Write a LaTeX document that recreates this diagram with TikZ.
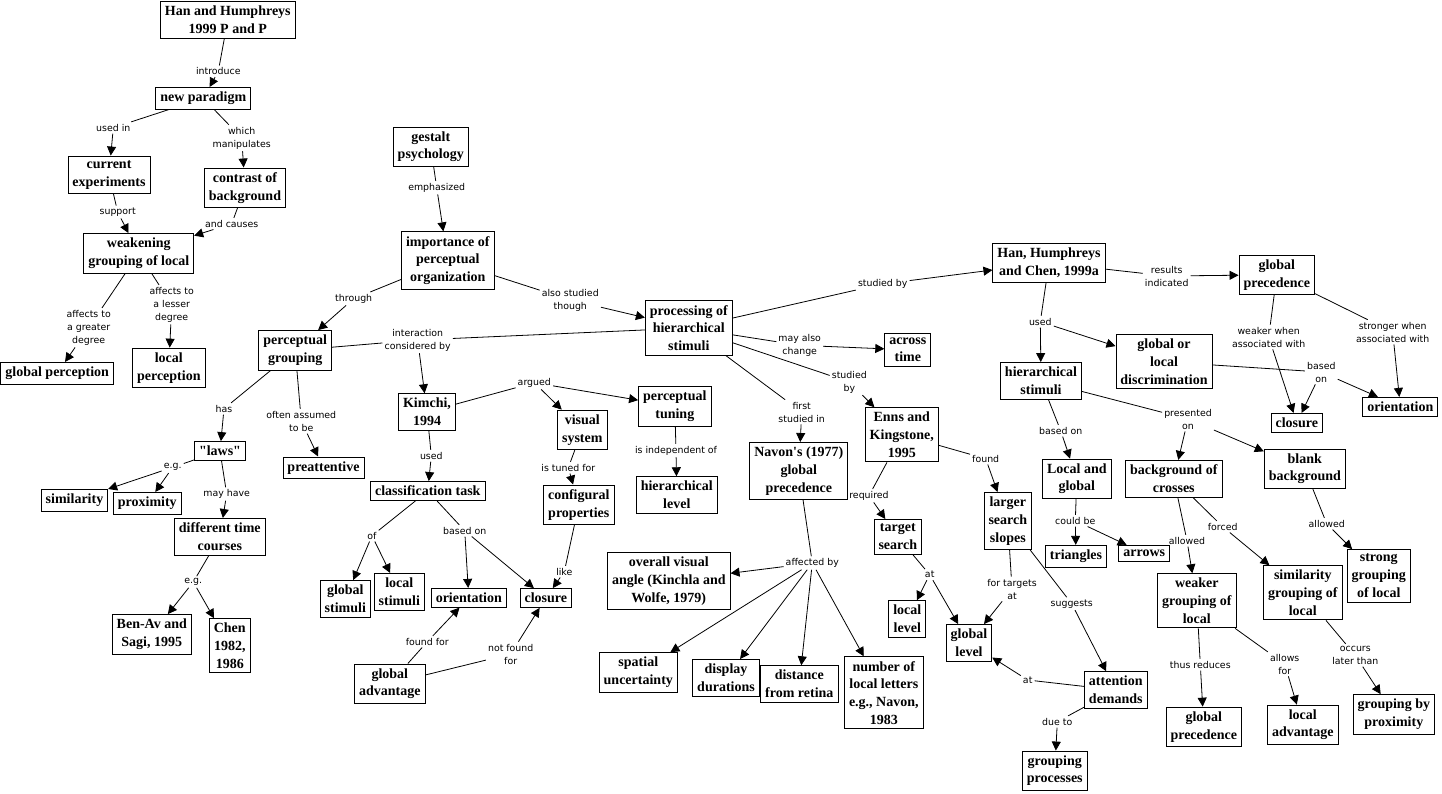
\documentclass[tikz,border=0pt]{standalone}
\usepackage{fontspec}
\usetikzlibrary{arrows.meta}
\newfontfamily\cmNodeFam{Liberation Serif}
\newfontfamily\cmLabFam{DejaVu Sans}
\newcommand\cmNodeFont{\cmNodeFam\bfseries\fontsize{14}{17.7}\selectfont}
\newcommand\cmLabFont{\cmLabFam\fontsize{9.4}{13}\selectfont}
\tikzset{
  concept/.style={draw, line width=0.9pt, fill=white, align=center, font=\cmNodeFont, inner xsep=4.5pt, inner ysep=4.5pt},
  lab/.style={font=\cmLabFont, align=center, inner sep=2pt},
  link/.style={line width=0.8pt},
  arr/.style={line width=0.8pt, -{Triangle[length=9pt,width=9pt]}},
}
\begin{document}
\begin{tikzpicture}[x=1pt,y=-1pt]
\useasboundingbox (0,0) rectangle (1442,793);
\fill[white] (0,0) rectangle (1442,793);
% concepts
\node[concept] (hh99) at (227.8,19.8) {Han and Humphreys\\1999 P and P};
\node[concept] (newpar) at (203.3,98.3) {new paradigm};
\node[concept] (curexp) at (109,174.8) {current\\experiments};
\node[concept] (contrast) at (245,187.8) {contrast of\\background};
\node[concept] (weaken) at (138.8,253.3) {weakening\\grouping of local};
\node[concept] (globperc) at (57.2,373.3) {global perception};
\node[concept] (localperc) at (168.8,367.8) {local\\perception};
\node[concept] (gestalt) at (430.8,146.8) {gestalt\\psychology};
\node[concept] (importance) at (447.8,260.5) {importance of\\perceptual\\organization};
\node[concept] (pgroup) at (295.2,350.3) {perceptual\\grouping};
\node[concept] (prochier) at (688.8,328) {processing of\\hierarchical\\stimuli};
\node[concept] (kimchi) at (427,412) {Kimchi,\\1994};
\node[concept] (laws) at (220,451) {"laws"};
\node[concept] (preatt) at (323.5,467.8) {preattentive};
\node[concept] (similarity) at (74.5,500.3) {similarity};
\node[concept] (proximity) at (147.3,503.3) {proximity};
\node[concept] (difftime) at (219.8,536.8) {different time\\courses};
\node[concept] (benav) at (151.8,634.3) {Ben-Av and\\Sagi, 1995};
\node[concept] (chen) at (229.8,645.8) {Chen\\1982,\\1986};
\node[concept] (classtask) at (427.8,491) {classification task};
\node[concept] (globstim) at (345.3,598.8) {global\\stimuli};
\node[concept] (locstim) at (399.3,591.7) {local\\stimuli};
\node[concept] (orient1) at (468.8,597.8) {orientation};
\node[concept] (closure1) at (545.8,598) {closure};
\node[concept] (globadv) at (389.8,683.7) {global\\advantage};
\node[concept] (vissys) at (582.3,429.8) {visual\\system};
\node[concept] (perctun) at (674.8,406.3) {perceptual\\tuning};
\node[concept] (config) at (578.8,504.8) {configural\\properties};
\node[concept] (hierlevel) at (676.8,495) {hierarchical\\level};
\node[concept] (overall) at (668.8,581) {overall visual\\angle (Kinchla and\\Wolfe, 1979)};
\node[concept] (spatial) at (638.3,672.3) {spatial\\uncertainty};
\node[concept] (display) at (726,677.7) {display\\durations};
\node[concept] (distance) at (799.3,684) {distance\\from retina};
\node[concept] (numloc) at (883.8,692.8) {number of\\local letters\\e.g., Navon,\\1983};
\node[concept] (navon) at (798.8,471) {Navon's (1977)\\global\\precedence};
\node[concept] (across) at (907.8,349.8) {across\\time};
\node[concept] (enns) at (901.8,434.8) {Enns and\\Kingstone,\\1995};
\node[concept] (target) at (897.8,536.8) {target\\search};
\node[concept] (loclevel) at (907.3,619) {local\\level};
\node[concept] (globlevel) at (969,642.8) {global\\level};
\node[concept] (larger) at (1007.8,521) {larger\\search\\slopes};
\node[concept] (attn) at (1115.8,690) {attention\\demands};
\node[concept] (grpproc) at (1054.8,770.7) {grouping\\processes};
\node[concept] (triangles) at (1076,556.2) {triangles};
\node[concept] (arrowsn) at (1144.3,553.3) {arrows};
\node[concept] (weaker) at (1196.8,600.8) {weaker\\grouping of\\local};
\node[concept] (simgrp) at (1302.8,592.8) {similarity\\grouping of\\local};
\node[concept] (strong) at (1378.8,575.8) {strong\\grouping\\of local};
\node[concept] (globprecB) at (1203.8,726.8) {global\\precedence};
\node[concept] (localadv) at (1302.8,724.8) {local\\advantage};
\node[concept] (grpprox) at (1393.8,714.3) {grouping by\\proximity};
\node[concept] (hhc) at (1049,262.8) {Han, Humphreys\\and Chen, 1999a};
\node[concept] (globprecA) at (1276.8,274.8) {global\\precedence};
\node[concept] (glocdisc) at (1164,361.8) {global or\\local\\discrimination};
\node[concept] (hierstim) at (1041,380.8) {hierarchical\\stimuli};
\node[concept] (closure2) at (1296.8,422.8) {closure};
\node[concept] (orient2) at (1400.3,406.8) {orientation};
\node[concept] (locglob) at (1076.8,478.8) {Local and\\global};
\node[concept] (bgcross) at (1173.8,478.7) {background of\\crosses};
\node[concept] (blank) at (1304.8,468.8) {blank\\background};
% labels
\node[lab] (l1) at (218.3,71.3) {introduce};
\node[lab] (l2) at (113.3,127.7) {used in};
\node[lab] (l3) at (241.7,138) {which\\manipulates};
\node[lab] (l4) at (117.7,212) {support};
\node[lab] (l5) at (231.7,223.7) {and causes};
\node[lab] (l6) at (88.7,327.7) {affects to\\a greater\\degree};
\node[lab] (l7) at (171.7,304.7) {affects to\\a lesser\\degree};
\node[lab] (l8) at (436.7,187.7) {emphasized};
\node[lab] (l9) at (353.7,298.7) {through};
\node[lab] (l10) at (570.3,300) {also studied\\though};
\node[lab] (l11) at (417.7,340) {interaction\\considered by};
\node[lab] (l12) at (224,408.7) {has};
\node[lab] (l13) at (301.3,421.3) {often assumed\\to be};
\node[lab] (l14) at (172.7,467.3) {e.g.};
\node[lab] (l15) at (226.7,494) {may have};
\node[lab] (l16) at (193.3,582) {e.g.};
\node[lab] (l17) at (431.3,455.7) {used};
\node[lab] (l18) at (372,535.7) {of};
\node[lab] (l19) at (464.7,530.7) {based on};
\node[lab] (l20) at (427.3,641.7) {found for};
\node[lab] (l21) at (510.7,654) {not found\\for};
\node[lab] (l22) at (534.3,382.7) {argued};
\node[lab] (l23) at (568.3,467.7) {is tuned for};
\node[lab] (l24) at (564.3,571.7) {like};
\node[lab] (l25) at (676,450.7) {is independent of};
\node[lab] (l26) at (882.7,284) {studied by};
\node[lab] (l27) at (799.7,345.3) {may also\\change};
\node[lab] (l28) at (849.3,382) {studied\\by};
\node[lab] (l29) at (801.7,412) {first\\studied in};
\node[lab] (l30) at (812.3,563) {affected by};
\node[lab] (l31) at (869,495.7) {required};
\node[lab] (l32) at (985.7,458.7) {found};
\node[lab] (l33) at (929.7,574.7) {at};
\node[lab] (l34) at (1012,589) {for targets\\at};
\node[lab] (l35) at (1071.7,603.7) {suggests};
\node[lab] (l36) at (1027.7,680) {at};
\node[lab] (l37) at (1057.3,721.7) {due to};
\node[lab] (l38) at (1166.7,276) {results\\indicated};
\node[lab] (l39) at (1040.3,321.7) {used};
\node[lab] (l40) at (1268.7,337) {weaker when\\associated with};
\node[lab] (l41) at (1392.7,332) {stronger when\\associated with};
\node[lab] (l42) at (1321.3,372) {based\\on};
\node[lab] (l43) at (1060.7,430.7) {based on};
\node[lab] (l44) at (1188,419) {presented\\on};
\node[lab] (l45) at (1075.3,520.7) {could be};
\node[lab] (l46) at (1187,540.7) {allowed};
\node[lab] (l47) at (1222.7,526.7) {forced};
\node[lab] (l48) at (1326.7,523.7) {allowed};
\node[lab] (l49) at (1200.3,664.7) {thus reduces};
\node[lab] (l50) at (1284.7,664) {allows\\for};
\node[lab] (l51) at (1355.3,655.3) {occurs\\later than};
% connectors
\draw[link] (hh99) -- (l1); \draw[arr] (l1) -- (newpar);
\draw[link] (newpar) -- (l2); \draw[arr] (l2) -- (curexp);
\draw[link] (newpar) -- (l3); \draw[arr] (l3) -- (contrast);
\draw[link] (curexp) -- (l4); \draw[arr] (l4) -- (weaken);
\draw[link] (contrast) -- (l5); \draw[arr] (l5) -- (weaken);
\draw[link] (weaken) -- (l6); \draw[arr] (l6) -- (globperc);
\draw[link] (weaken) -- (l7); \draw[arr] (l7) -- (localperc);
\draw[link] (gestalt) -- (l8); \draw[arr] (l8) -- (importance);
\draw[link] (importance) -- (l9); \draw[arr] (l9) -- (pgroup);
\draw[link] (importance) -- (l10); \draw[arr] (l10) -- (prochier);
\draw[link] (pgroup) -- (l11); \draw[link] (prochier) -- (l11); \draw[arr] (l11) -- (kimchi);
\draw[link] (pgroup) -- (l12); \draw[arr] (l12) -- (laws);
\draw[link] (pgroup) -- (l13); \draw[arr] (l13) -- (preatt);
\draw[link] (laws) -- (l14); \draw[arr] (l14) -- (similarity); \draw[arr] (l14) -- (proximity);
\draw[link] (laws) -- (l15); \draw[arr] (l15) -- (difftime);
\draw[link] (difftime) -- (l16); \draw[arr] (l16) -- (benav); \draw[arr] (l16) -- (chen);
\draw[link] (kimchi) -- (l17); \draw[arr] (l17) -- (classtask);
\draw[link] (classtask) -- (l18); \draw[arr] (l18) -- (globstim); \draw[arr] (l18) -- (locstim);
\draw[link] (classtask) -- (l19); \draw[arr] (l19) -- (orient1); \draw[arr] (l19) -- (closure1);
\draw[link] (globadv) -- (l20); \draw[arr] (l20) -- (orient1);
\draw[link] (globadv) -- (l21); \draw[arr] (l21) -- (closure1);
\draw[link] (kimchi) -- (l22); \draw[arr] (l22) -- (vissys); \draw[arr] (l22) -- (perctun);
\draw[link] (vissys) -- (l23); \draw[arr] (l23) -- (config);
\draw[link] (config) -- (l24); \draw[arr] (l24) -- (closure1);
\draw[link] (perctun) -- (l25); \draw[arr] (l25) -- (hierlevel);
\draw[link] (prochier) -- (l26); \draw[arr] (l26) -- (hhc);
\draw[link] (prochier) -- (l27); \draw[arr] (l27) -- (across);
\draw[link] (prochier) -- (l28); \draw[arr] (l28) -- (enns);
\draw[link] (prochier) -- (l29); \draw[arr] (l29) -- (navon);
\draw[link] (navon) -- (l30);
\draw[arr] (l30) -- (overall); \draw[arr] (l30) -- (spatial); \draw[arr] (l30) -- (display);
\draw[arr] (l30) -- (distance); \draw[arr] (l30) -- (numloc);
\draw[link] (enns) -- (l31); \draw[arr] (l31) -- (target);
\draw[link] (enns) -- (l32); \draw[arr] (l32) -- (larger);
\draw[link] (target) -- (l33); \draw[arr] (l33) -- (loclevel); \draw[arr] (l33) -- (globlevel);
\draw[link] (larger) -- (l34); \draw[arr] (l34) -- (globlevel);
\draw[link] (larger) -- (l35); \draw[arr] (l35) -- (attn);
\draw[link] (attn) -- (l36); \draw[arr] (l36) -- (globlevel);
\draw[link] (attn) -- (l37); \draw[arr] (l37) -- (grpproc);
\draw[link] (hhc) -- (l38); \draw[arr] (l38) -- (globprecA);
\draw[link] (hhc) -- (l39); \draw[arr] (l39) -- (hierstim); \draw[arr] (l39) -- (glocdisc);
\draw[link] (globprecA) -- (l40); \draw[arr] (l40) -- (closure2);
\draw[link] (globprecA) -- (l41); \draw[arr] (l41) -- (orient2);
\draw[link] (glocdisc) -- (l42); \draw[arr] (l42) -- (closure2); \draw[arr] (l42) -- (orient2);
\draw[link] (hierstim) -- (l43); \draw[arr] (l43) -- (locglob);
\draw[link] (hierstim) -- (l44); \draw[arr] (l44) -- (bgcross); \draw[arr] (l44) -- (blank);
\draw[link] (locglob) -- (l45); \draw[arr] (l45) -- (triangles); \draw[arr] (l45) -- (arrowsn);
\draw[link] (bgcross) -- (l46); \draw[arr] (l46) -- (weaker);
\draw[link] (bgcross) -- (l47); \draw[arr] (l47) -- (simgrp);
\draw[link] (blank) -- (l48); \draw[arr] (l48) -- (strong);
\draw[link] (weaker) -- (l49); \draw[arr] (l49) -- (globprecB);
\draw[link] (weaker) -- (l50); \draw[arr] (l50) -- (localadv);
\draw[link] (simgrp) -- (l51); \draw[arr] (l51) -- (grpprox);
\end{tikzpicture}
\end{document}
